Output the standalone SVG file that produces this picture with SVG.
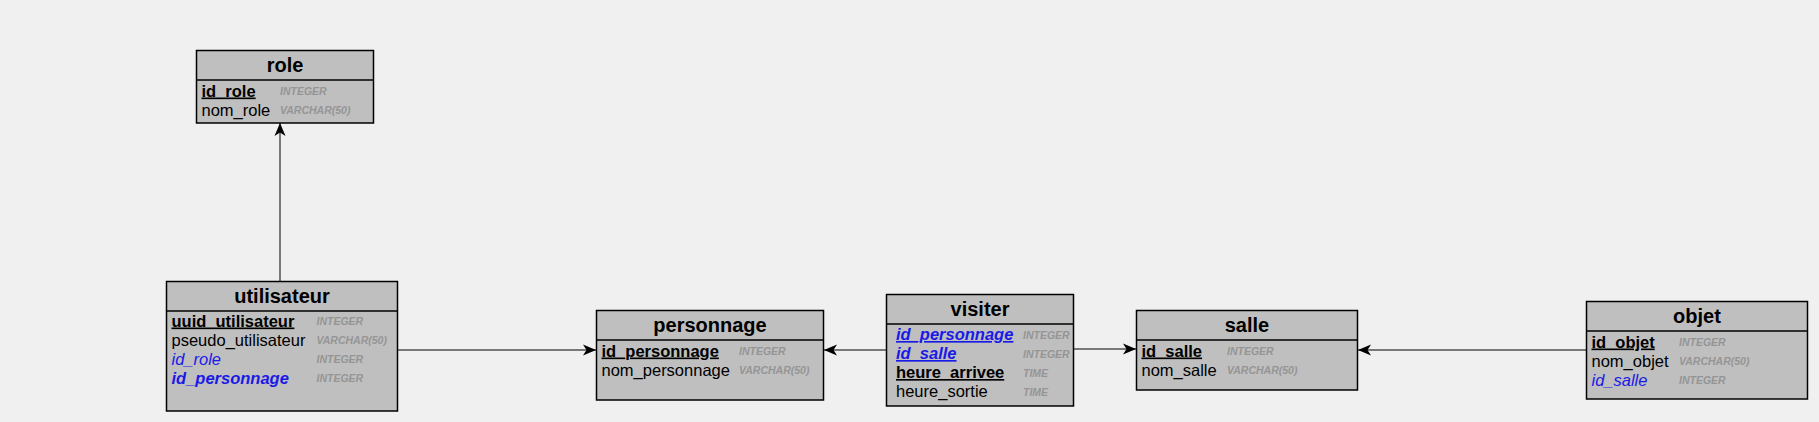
<svg xmlns="http://www.w3.org/2000/svg" width="1819" height="422" viewBox="0 0 1819 422">
<defs>
<marker id="arr" markerUnits="userSpaceOnUse" markerWidth="14" markerHeight="12" refX="13" refY="6" orient="auto">
<path d="M0,0.5 L13,6 L0,11.5 L3.5,6 z" fill="#000"/>
</marker>
</defs>
<style>
.box{fill:#bfbfbf;stroke:#000;stroke-width:1.5}
.sep{stroke:#000;stroke-width:1.5}
.title{font-family:"Liberation Sans",Arial,sans-serif;font-size:20px;font-weight:bold;fill:#000;text-anchor:middle}
.f{font-family:"Liberation Sans",Arial,sans-serif;font-size:16.5px;fill:#000}
.pk{font-weight:bold;text-decoration:underline}
.fk{fill:#1a1ae6;font-style:italic}
.b{font-weight:bold}
.t{font-family:"Liberation Sans",Arial,sans-serif;font-size:10.5px;font-weight:bold;font-style:italic;fill:#959595}
.c{stroke:#000;stroke-width:1;fill:none}
</style>
<rect width="1819" height="422" fill="#f0f0f0"/>
<g id="connectors">
<line class="c" x1="280" y1="281" x2="280" y2="123" marker-end="url(#arr)"/>
<line class="c" x1="398" y1="350" x2="596" y2="350" marker-end="url(#arr)"/>
<line class="c" x1="886" y1="350" x2="824" y2="350" marker-end="url(#arr)"/>
<line class="c" x1="1074" y1="349" x2="1136" y2="349" marker-end="url(#arr)"/>
<line class="c" x1="1586" y1="350" x2="1358" y2="350" marker-end="url(#arr)"/>
</g>
<g id="role">
<rect class="box" x="196.5" y="50.5" width="177" height="72.5"/>
<line class="sep" x1="196.5" y1="80" x2="373.5" y2="80"/>
<text class="title" x="285" y="72">role</text>
<text class="f pk" x="201.5" y="96.5">id_role</text>
<text class="t" x="280" y="95">INTEGER</text>
<text class="f" x="201.5" y="115.5">nom_role</text>
<text class="t" x="280" y="114">VARCHAR(50)</text>
</g>
<g id="utilisateur">
<rect class="box" x="166.5" y="281.5" width="231" height="129.5"/>
<line class="sep" x1="166.5" y1="311" x2="397.5" y2="311"/>
<text class="title" x="282" y="303">utilisateur</text>
<text class="f pk" x="171.5" y="326.5">uuid_utilisateur</text>
<text class="t" x="316.5" y="325">INTEGER</text>
<text class="f" x="171.5" y="345.5">pseudo_utilisateur</text>
<text class="t" x="316.5" y="344">VARCHAR(50)</text>
<text class="f fk" x="171.5" y="364.5">id_role</text>
<text class="t" x="316.5" y="363">INTEGER</text>
<text class="f fk b" x="171.5" y="383.5">id_personnage</text>
<text class="t" x="316.5" y="382">INTEGER</text>
</g>
<g id="personnage">
<rect class="box" x="596.5" y="310.5" width="227" height="89.5"/>
<line class="sep" x1="596.5" y1="340" x2="823.5" y2="340"/>
<text class="title" x="710" y="332">personnage</text>
<text class="f pk" x="601.5" y="356.5">id_personnage</text>
<text class="t" x="739" y="355">INTEGER</text>
<text class="f" x="601.5" y="375.5">nom_personnage</text>
<text class="t" x="739" y="374">VARCHAR(50)</text>
</g>
<g id="visiter">
<rect class="box" x="886.5" y="294.5" width="187" height="111.5"/>
<line class="sep" x1="886.5" y1="324" x2="1073.5" y2="324"/>
<text class="title" x="980" y="316">visiter</text>
<text class="f fk pk" x="896" y="340">id_personnage</text>
<text class="t" x="1023" y="339">INTEGER</text>
<text class="f fk pk" x="896" y="359">id_salle</text>
<text class="t" x="1023" y="358">INTEGER</text>
<text class="f pk" x="896" y="378">heure_arrivee</text>
<text class="t" x="1023" y="377">TIME</text>
<text class="f" x="896" y="397">heure_sortie</text>
<text class="t" x="1023" y="396">TIME</text>
</g>
<g id="salle">
<rect class="box" x="1136.5" y="310.5" width="221" height="79.5"/>
<line class="sep" x1="1136.5" y1="340" x2="1357.5" y2="340"/>
<text class="title" x="1247" y="332">salle</text>
<text class="f pk" x="1141.5" y="356.5">id_salle</text>
<text class="t" x="1227" y="355">INTEGER</text>
<text class="f" x="1141.5" y="375.5">nom_salle</text>
<text class="t" x="1227" y="374">VARCHAR(50)</text>
</g>
<g id="objet">
<rect class="box" x="1586.5" y="301.5" width="221" height="97.5"/>
<line class="sep" x1="1586.5" y1="331" x2="1807.5" y2="331"/>
<text class="title" x="1697" y="323">objet</text>
<text class="f pk" x="1591.5" y="347.5">id_objet</text>
<text class="t" x="1679" y="346">INTEGER</text>
<text class="f" x="1591.5" y="366.5">nom_objet</text>
<text class="t" x="1679" y="365">VARCHAR(50)</text>
<text class="f fk" x="1591.5" y="385.5">id_salle</text>
<text class="t" x="1679" y="384">INTEGER</text>
</g>
</svg>
